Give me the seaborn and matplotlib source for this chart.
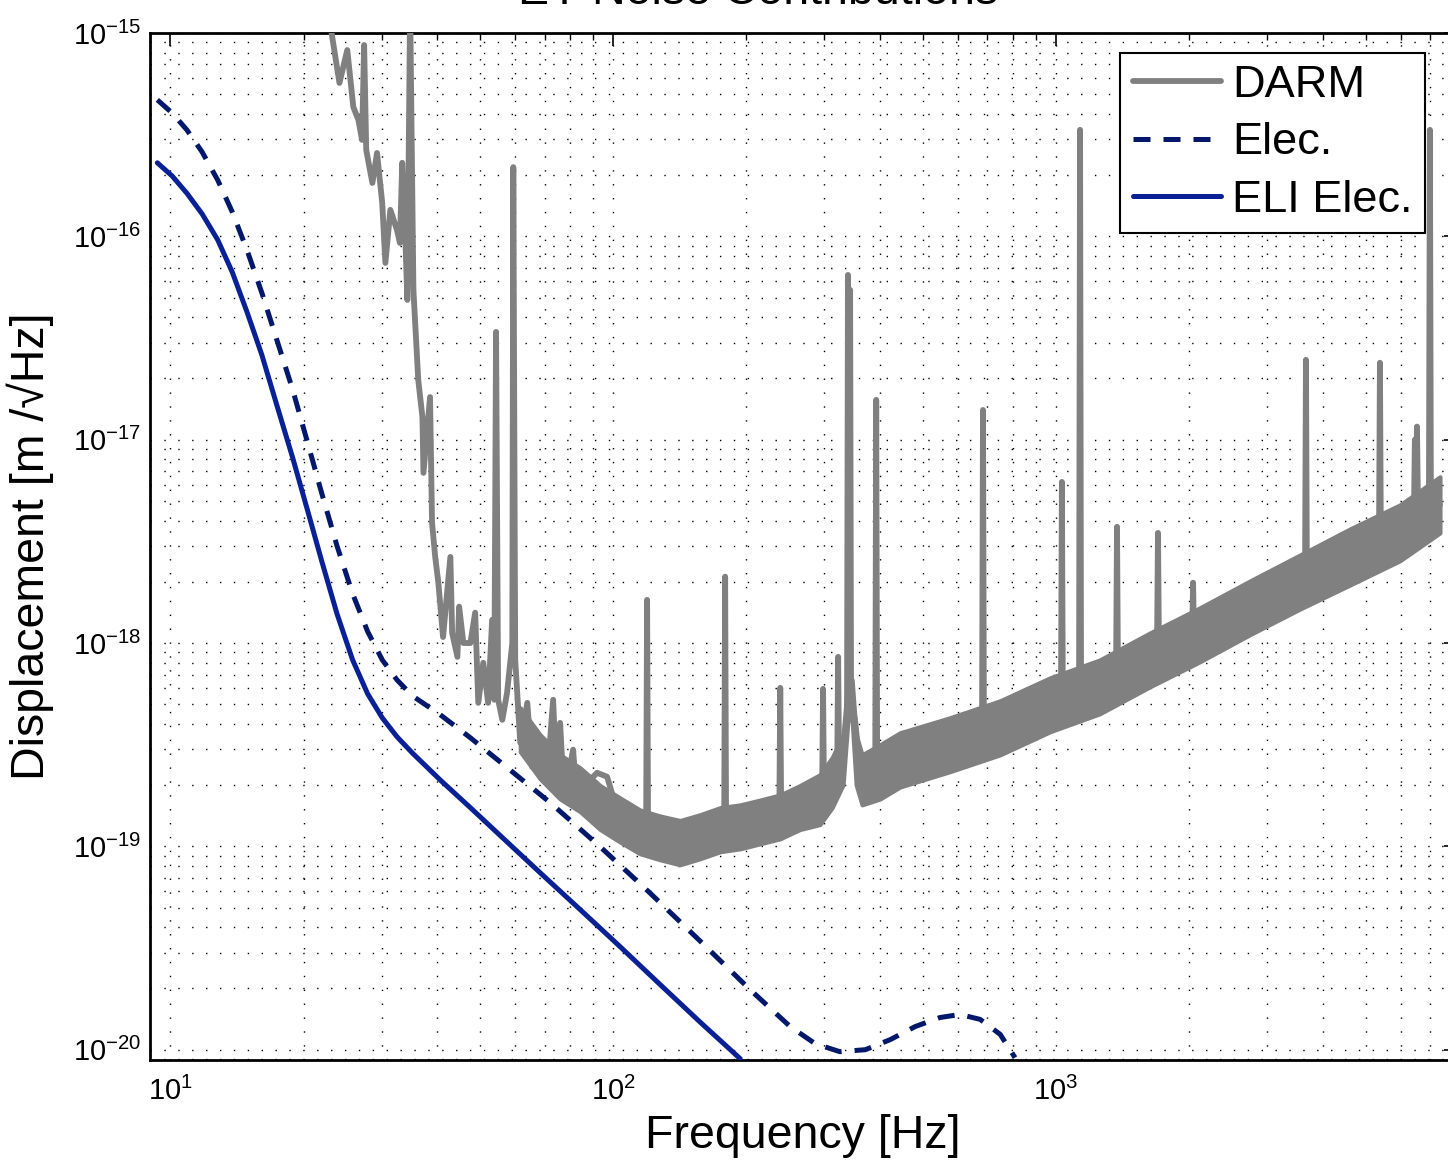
import numpy as np
import pandas as pd
import matplotlib
matplotlib.use("Agg")
import matplotlib.pyplot as plt
import seaborn as sns
from matplotlib.ticker import LogLocator, NullFormatter

# ---------------- data ----------------
title_text = "EY Noise Contributions"
x_label = "Frequency [Hz]"
y_label = "Displacement [m /\u221aHz]"
legend_labels = ["DARM", "Elec.", "ELI Elec."]

# DARM trace (centre of the noisy trace, including the line spikes)
darm_freq = [22.7, 24.1, 25.1, 25.9, 26.6, 27.1, 27.4, 27.7, 28.6, 29.3, 30.1, 30.6,
             31.4, 32.5, 33.0, 33.4, 33.9, 34.3, 34.8, 35.4, 36.3, 37.1, 37.3, 38.6,
             39.0, 39.65, 40.3, 41.3, 42.9, 43.3, 44.5, 44.9, 45.9, 47.6, 48.8, 49.6,
             50.9, 52.2, 53.3, 53.9, 54.4, 55.0, 56.2, 57.6, 59.2, 59.5, 60.1, 61.7,
             64.0, 65.6, 68.4, 71.0, 73.2, 74.3, 75.9, 77.1, 78.7, 81.2, 82.5, 84.3,
             92.0, 96.9, 100, 109.2, 118.7, 119.3, 119.9, 141.6, 157, 178.1, 179, 179.9,
             214.8, 237.2, 238.4, 239.6, 264, 296.3, 297.8, 299.3, 312.2, 320.5, 322.1, 323.7,
             328.9, 337.3, 339, 340.7, 342.8, 344.5, 351.6, 357.3, 364.8, 380.2, 390.6, 392.6,
             394.6, 444.6, 576, 680.6, 684, 687.4, 748, 969, 1026, 1031, 1036, 1127,
             1133, 1139, 1256, 1366, 1373, 1380, 1629, 1690, 1699, 1708, 2029, 2039,
             2049, 2113, 2742, 3556, 3649, 3667, 3685, 4613, 5360, 5387, 5414, 5981,
             6430, 6460, 6500, 6531, 6562, 6950, 6985, 7020, 7360]
darm_val = [1.30e-15, 5.68e-16, 8.25e-16, 4.33e-16, 3.73e-16, 2.98e-16, 8.73e-16, 2.66e-16,
            1.83e-16, 2.57e-16, 1.46e-16, 7.40e-17, 1.35e-16, 1.075e-16, 9.28e-17, 2.30e-16,
            1.075e-16, 4.87e-17, 1.37e-15, 5.45e-17, 1.97e-17, 1.29e-17, 6.87e-18, 1.62e-17,
            3.90e-18, 2.65e-18, 1.98e-18, 1.07e-18, 2.65e-18, 1.12e-18, 8.55e-19, 1.51e-18,
            1.0e-18, 1.0e-18, 1.41e-18, 5.08e-19, 8.00e-19, 5.08e-19, 1.30e-18, 5.26e-19,
            3.39e-17, 5.26e-19, 4.19e-19, 5.69e-19, 1.0e-18, 2.19e-16, 8.26e-19, 3.23e-19,
            5.08e-19, 2.46e-19, 2.99e-19, 2.20e-19, 5.26e-19, 2.38e-19, 4.05e-19, 2.12e-19,
            2.05e-19, 2.99e-19, 1.90e-19, 1.90e-19, 2.30e-19, 2.20e-19, 1.75e-19, 1.35e-19,
            1.21e-19, 1.63e-18, 1.21e-19, 1.04e-19, 1.11e-19, 1.21e-19, 2.12e-18, 1.21e-19,
            1.31e-19, 1.40e-19, 6.02e-19, 1.40e-19, 1.51e-19, 1.69e-19, 5.95e-19, 1.75e-19,
            2.05e-19, 2.30e-19, 8.55e-19, 2.50e-19, 2.76e-19, 4.0e-19, 6.46e-17, 2.0e-18,
            5.45e-17, 5.26e-19, 4.19e-19, 2.99e-19, 2.05e-19, 2.12e-19, 2.20e-19, 1.57e-17,
            2.20e-19, 2.67e-19, 3.16e-19, 3.50e-19, 1.40e-17, 3.54e-19, 3.83e-19, 4.97e-19,
            5.0e-19, 6.20e-18, 5.05e-19, 5.20e-19, 3.34e-16, 5.26e-19, 6.09e-19, 6.7e-19,
            3.73e-18, 6.8e-19, 8.45e-19, 8.7e-19, 3.48e-18, 8.8e-19, 1.05e-18, 1.98e-18,
            1.05e-18, 1.10e-18, 1.49e-18, 2.00e-18, 2.05e-18, 2.47e-17, 2.05e-18, 2.65e-18,
            3.0e-18, 2.39e-17, 3.0e-18, 3.48e-18, 4.5e-18, 1.0e-17, 6.0e-18, 1.16e-17,
            5.0e-18, 5.0e-18, 3.34e-16, 5.5e-18, 4.78e-18]

# DARM noise band (lower / upper envelope of the thick noisy trace)
band_freq = [61.7, 68.4, 75.9, 84.3, 93.5, 103.7, 115, 127.7, 141.6, 157, 174.4, 193.6,
             214.8, 238.4, 264, 293, 312.2, 330.5, 339, 346.4, 353.7, 364.8, 400.5, 444.6,
             576, 748, 969, 1256, 1629, 2113, 2742, 3556, 4613, 5981, 7360]
band_lo = [2.92e-19, 2.15e-19, 1.71e-19, 1.48e-19, 1.21e-19, 1.05e-19, 9.20e-20, 8.59e-20,
           8.12e-20, 8.69e-20, 9.41e-20, 9.73e-20, 1.03e-19, 1.09e-19, 1.21e-19, 1.28e-19,
           1.55e-19, 2.01e-19, 4.19e-19, 4.19e-19, 2.01e-19, 1.60e-19, 1.71e-19, 1.96e-19,
           2.33e-19, 2.82e-19, 3.66e-19, 4.49e-19, 6.09e-19, 8.09e-19, 1.10e-18, 1.47e-18,
           1.93e-18, 2.54e-18, 3.48e-18]
band_hi = [4.80e-19, 3.54e-19, 2.82e-19, 2.43e-19, 1.99e-19, 1.73e-19, 1.51e-19, 1.41e-19,
           1.34e-19, 1.43e-19, 1.55e-19, 1.60e-19, 1.69e-19, 1.79e-19, 1.99e-19, 2.25e-19,
           2.73e-19, 3.54e-19, 6.59e-19, 6.59e-19, 3.54e-19, 2.82e-19, 3.16e-19, 3.62e-19,
           4.29e-19, 5.20e-19, 6.74e-19, 8.26e-19, 1.12e-18, 1.49e-18, 2.02e-18, 2.71e-18,
           3.64e-18, 4.78e-18, 6.57e-18]

# Elec. (dashed)
elec_freq = [9.35, 10.1, 10.9, 11.8, 12.8, 13.8, 14.9, 16.1, 17.4, 18.9, 20.4, 22.0,
             23.8, 25.8, 27.9, 30.1, 32.5, 35.2, 40.7, 47.6, 55.6, 72.1, 93.5, 121,
             157, 204, 251, 286, 325, 371, 422, 481, 547, 607, 674, 748, 808]
elec_val = [4.69e-16, 4.04e-16, 3.34e-16, 2.60e-16, 1.89e-16, 1.32e-16, 8.57e-17, 5.27e-17,
            3.10e-17, 1.76e-17, 9.75e-18, 5.41e-18, 3.00e-18, 1.75e-18, 1.14e-18, 8.27e-19,
            6.59e-19, 5.50e-19, 4.44e-19, 3.42e-19, 2.60e-19, 1.64e-19, 9.95e-20, 5.91e-20,
            3.43e-20, 1.97e-20, 1.30e-20, 1.07e-20, 9.78e-21, 1.0e-20, 1.12e-20, 1.30e-20,
            1.44e-20, 1.49e-20, 1.41e-20, 1.19e-20, 9.14e-21]

# ELI Elec. (solid)
eli_freq = [9.35, 10.1, 10.9, 11.8, 12.8, 13.8, 14.9, 16.1, 17.4, 18.9, 20.4, 22.0,
            23.8, 25.8, 27.9, 30.1, 32.5, 35.2, 40.7, 47.6, 55.6, 68.4, 84.3, 103.7,
            127.7, 157, 193.6]
eli_val = [2.30e-16, 1.98e-16, 1.63e-16, 1.29e-16, 9.60e-17, 6.68e-17, 4.25e-17, 2.61e-17,
           1.48e-17, 8.14e-18, 4.52e-18, 2.51e-18, 1.39e-18, 8.27e-19, 5.63e-19, 4.29e-19,
           3.46e-19, 2.88e-19, 2.12e-19, 1.55e-19, 1.13e-19, 7.42e-20, 4.88e-20, 3.21e-20,
           2.09e-20, 1.37e-20, 9.03e-21]

x_limits = (9, 8000)
y_limits = (8.9e-21, 1e-15)

# ---------------- style ----------------
sns.set_style("white")
plt.rcParams["font.family"] = ["Liberation Sans", "DejaVu Sans"]
plt.rcParams["mathtext.fontset"] = "custom"
plt.rcParams["mathtext.rm"] = "Liberation Sans"
plt.rcParams["mathtext.it"] = "Liberation Sans:italic"
plt.rcParams["mathtext.bf"] = "Liberation Sans:bold"
plt.rcParams["text.color"] = "black"
plt.rcParams["axes.labelcolor"] = "black"
plt.rcParams["xtick.color"] = "black"
plt.rcParams["ytick.color"] = "black"

darm_color = "#808080"
elec_color = "#03186b"
eli_color = "#0a2196"

fig = plt.figure(figsize=(14.48, 11.62), dpi=100)
ax = fig.add_axes([150 / 1448, 102 / 1162, 1306 / 1448, 1027 / 1162])
ax.set_xscale("log")
ax.set_yscale("log")

darm_df = pd.DataFrame({"f": darm_freq, "v": darm_val})
elec_df = pd.DataFrame({"f": elec_freq, "v": elec_val})
eli_df = pd.DataFrame({"f": eli_freq, "v": eli_val})

ax.fill_between(band_freq, band_lo, band_hi, color=darm_color, lw=3,
                edgecolor=darm_color, zorder=2)
sns.lineplot(data=darm_df, x="f", y="v", ax=ax, color=darm_color, lw=4.2,
             estimator=None, sort=False, label=legend_labels[0], zorder=3,
             solid_joinstyle="round")
sns.lineplot(data=elec_df, x="f", y="v", ax=ax, color=elec_color, lw=3.6,
             estimator=None, sort=False, label=legend_labels[1], zorder=4,
             linestyle=(0, (3.4, 2.6)))
sns.lineplot(data=eli_df, x="f", y="v", ax=ax, color=eli_color, lw=3.6,
             estimator=None, sort=False, label=legend_labels[2], zorder=4)

ax.set_xlim(*x_limits)
ax.set_ylim(*y_limits)

ax.xaxis.set_major_locator(LogLocator(base=10, numticks=20))
ax.xaxis.set_minor_locator(LogLocator(base=10, subs=np.arange(2, 10), numticks=100))
ax.yaxis.set_major_locator(LogLocator(base=10, numticks=20))
ax.yaxis.set_minor_locator(LogLocator(base=10, subs=np.arange(2, 10), numticks=100))
ax.xaxis.set_minor_formatter(NullFormatter())
ax.yaxis.set_minor_formatter(NullFormatter())

ax.grid(True, which="both", color="black", linestyle=(0, (1, 9)), linewidth=1.0)
ax.set_axisbelow(True)

ax.tick_params(which="both", direction="in", top=True, right=True, colors="black")
ax.tick_params(which="major", length=9, width=1.2, labelsize=21)
ax.tick_params(axis="x", which="major", pad=12)
ax.tick_params(axis="y", which="major", pad=6)
ax.tick_params(which="minor", length=5, width=1.0)
for s in ax.spines.values():
    s.set_color("black")
    s.set_linewidth(2.0)

ax.set_xlabel(x_label, fontsize=33.5, labelpad=6)
ax.set_ylabel(y_label, fontsize=33.5, labelpad=14)

fig.text(758 / 1448, 1 - 4 / 1162, title_text, fontsize=33.5, ha="center", va="baseline")

leg = ax.legend(loc="upper right", bbox_to_anchor=(0.976, 0.9805), borderaxespad=0,
                fontsize=32.5, handlelength=1.95, handletextpad=0.25, borderpad=0.27,
                labelspacing=0.36, fancybox=False, framealpha=1, edgecolor="black")
leg.get_frame().set_linewidth(1.5)

fig.savefig("out.png", dpi=100)
